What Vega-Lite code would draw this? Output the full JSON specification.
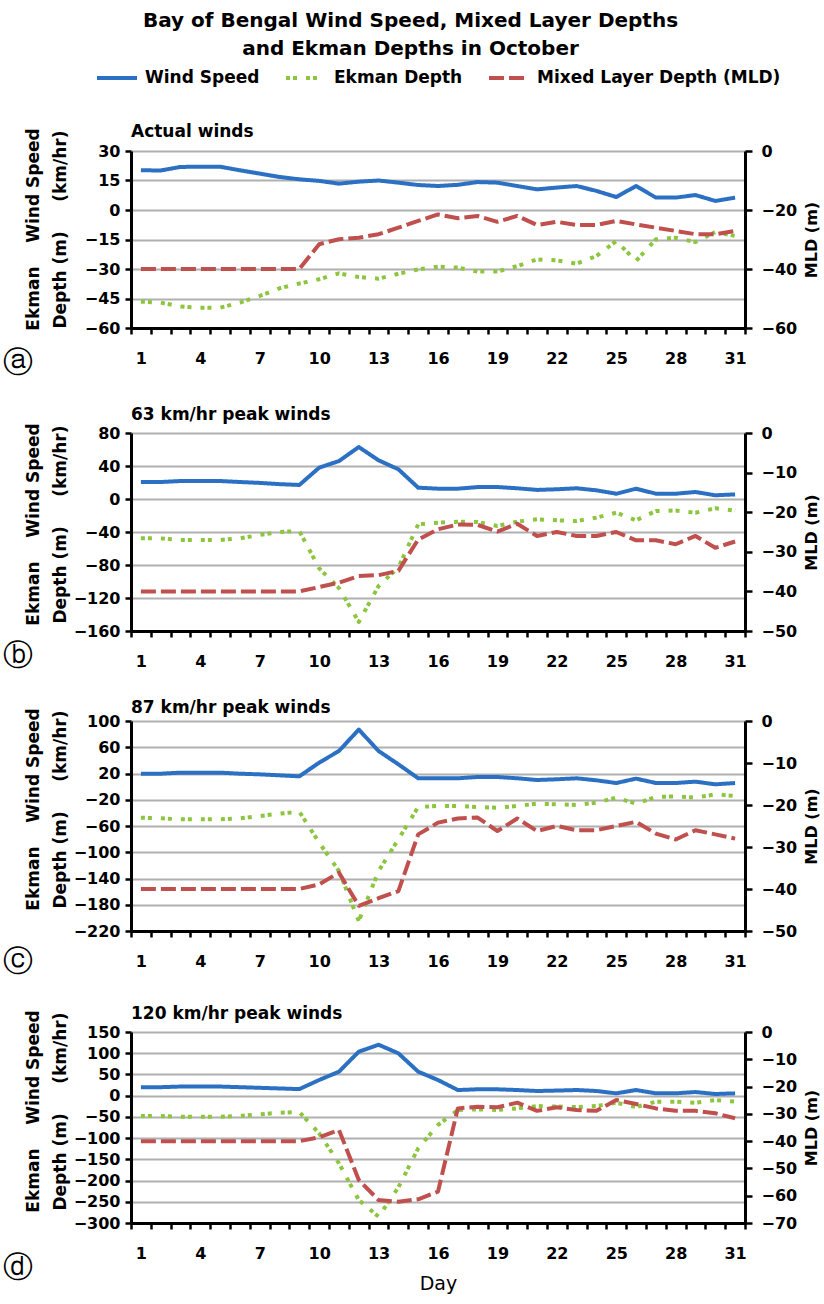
{
 "$schema": "https://vega.github.io/schema/vega-lite/v6.json",
 "padding": {"left": 2, "right": 2, "top": 11, "bottom": 2},
 "background": "white",
 "title": {"text": ["Bay of Bengal Wind Speed, Mixed Layer Depths", "and Ekman Depths in October"], "font": "DejaVu Sans", "fontSize": 20, "fontWeight": "bold", "color": "black", "lineHeight": 28, "anchor": "middle", "offset": -3},
 "datasets": {
  "a": [
   {"day":1,"series":"wind","value":20.2},{"day":2,"series":"wind","value":20.1},{"day":3,"series":"wind","value":21.9},{"day":4,"series":"wind","value":22},{"day":5,"series":"wind","value":22},{"day":6,"series":"wind","value":20.2},{"day":7,"series":"wind","value":18.5},{"day":8,"series":"wind","value":16.8},{"day":9,"series":"wind","value":15.6},{"day":10,"series":"wind","value":14.8},{"day":11,"series":"wind","value":13.4},{"day":12,"series":"wind","value":14.4},{"day":13,"series":"wind","value":15},{"day":14,"series":"wind","value":13.9},{"day":15,"series":"wind","value":12.7},{"day":16,"series":"wind","value":12.2},{"day":17,"series":"wind","value":12.8},{"day":18,"series":"wind","value":14.2},{"day":19,"series":"wind","value":13.9},{"day":20,"series":"wind","value":12.2},{"day":21,"series":"wind","value":10.5},{"day":22,"series":"wind","value":11.4},{"day":23,"series":"wind","value":12.2},{"day":24,"series":"wind","value":9.7},{"day":25,"series":"wind","value":6.6},{"day":26,"series":"wind","value":12.2},{"day":27,"series":"wind","value":6.3},{"day":28,"series":"wind","value":6.3},{"day":29,"series":"wind","value":7.6},{"day":30,"series":"wind","value":4.6},{"day":31,"series":"wind","value":6.3},
   {"day":1,"series":"ekman","value":-46.6},{"day":2,"series":"ekman","value":-47.1},{"day":3,"series":"ekman","value":-49.1},{"day":4,"series":"ekman","value":-49.7},{"day":5,"series":"ekman","value":-49.7},{"day":6,"series":"ekman","value":-47.1},{"day":7,"series":"ekman","value":-43.7},{"day":8,"series":"ekman","value":-39.8},{"day":9,"series":"ekman","value":-37.4},{"day":10,"series":"ekman","value":-35.2},{"day":11,"series":"ekman","value":-32.2},{"day":12,"series":"ekman","value":-34.1},{"day":13,"series":"ekman","value":-34.9},{"day":14,"series":"ekman","value":-32.4},{"day":15,"series":"ekman","value":-30.2},{"day":16,"series":"ekman","value":-28.8},{"day":17,"series":"ekman","value":-29.3},{"day":18,"series":"ekman","value":-31.3},{"day":19,"series":"ekman","value":-31.3},{"day":20,"series":"ekman","value":-28.5},{"day":21,"series":"ekman","value":-25.1},{"day":22,"series":"ekman","value":-25.6},{"day":23,"series":"ekman","value":-27.3},{"day":24,"series":"ekman","value":-23.4},{"day":25,"series":"ekman","value":-15.8},{"day":26,"series":"ekman","value":-25.9},{"day":27,"series":"ekman","value":-14.9},{"day":28,"series":"ekman","value":-14.1},{"day":29,"series":"ekman","value":-16.3},{"day":30,"series":"ekman","value":-11.2},{"day":31,"series":"ekman","value":-13.2},
   {"day":1,"series":"mld","value":-40},{"day":2,"series":"mld","value":-40},{"day":3,"series":"mld","value":-40},{"day":4,"series":"mld","value":-40},{"day":5,"series":"mld","value":-40},{"day":6,"series":"mld","value":-40},{"day":7,"series":"mld","value":-40},{"day":8,"series":"mld","value":-40},{"day":9,"series":"mld","value":-40},{"day":10,"series":"mld","value":-31.6},{"day":11,"series":"mld","value":-29.9},{"day":12,"series":"mld","value":-29.4},{"day":13,"series":"mld","value":-28.2},{"day":14,"series":"mld","value":-26},{"day":15,"series":"mld","value":-23.7},{"day":16,"series":"mld","value":-21.5},{"day":17,"series":"mld","value":-22.8},{"day":18,"series":"mld","value":-22},{"day":19,"series":"mld","value":-24},{"day":20,"series":"mld","value":-22},{"day":21,"series":"mld","value":-25.1},{"day":22,"series":"mld","value":-24},{"day":23,"series":"mld","value":-25.1},{"day":24,"series":"mld","value":-25.1},{"day":25,"series":"mld","value":-23.7},{"day":26,"series":"mld","value":-24.9},{"day":27,"series":"mld","value":-26},{"day":28,"series":"mld","value":-27.1},{"day":29,"series":"mld","value":-28.2},{"day":30,"series":"mld","value":-28.2},{"day":31,"series":"mld","value":-27.1}
  ],
  "b": [
   {"day":1,"series":"wind","value":20.6},{"day":2,"series":"wind","value":20.6},{"day":3,"series":"wind","value":21.8},{"day":4,"series":"wind","value":21.8},{"day":5,"series":"wind","value":21.8},{"day":6,"series":"wind","value":20.6},{"day":7,"series":"wind","value":19.5},{"day":8,"series":"wind","value":18},{"day":9,"series":"wind","value":17},{"day":10,"series":"wind","value":38},{"day":11,"series":"wind","value":46},{"day":12,"series":"wind","value":63},{"day":13,"series":"wind","value":46.9},{"day":14,"series":"wind","value":36},{"day":15,"series":"wind","value":13.7},{"day":16,"series":"wind","value":12.5},{"day":17,"series":"wind","value":12.5},{"day":18,"series":"wind","value":14.5},{"day":19,"series":"wind","value":14.5},{"day":20,"series":"wind","value":13},{"day":21,"series":"wind","value":11},{"day":22,"series":"wind","value":11.8},{"day":23,"series":"wind","value":13},{"day":24,"series":"wind","value":10.5},{"day":25,"series":"wind","value":6.4},{"day":26,"series":"wind","value":12.5},{"day":27,"series":"wind","value":6.4},{"day":28,"series":"wind","value":6.4},{"day":29,"series":"wind","value":8.5},{"day":30,"series":"wind","value":4.5},{"day":31,"series":"wind","value":5.6},
   {"day":1,"series":"ekman","value":-47.7},{"day":2,"series":"ekman","value":-47.7},{"day":3,"series":"ekman","value":-49.7},{"day":4,"series":"ekman","value":-49.7},{"day":5,"series":"ekman","value":-49.7},{"day":6,"series":"ekman","value":-47.7},{"day":7,"series":"ekman","value":-43.6},{"day":8,"series":"ekman","value":-40},{"day":9,"series":"ekman","value":-38.8},{"day":10,"series":"ekman","value":-84},{"day":11,"series":"ekman","value":-108},{"day":12,"series":"ekman","value":-149},{"day":13,"series":"ekman","value":-105.5},{"day":14,"series":"ekman","value":-83},{"day":15,"series":"ekman","value":-30.7},{"day":16,"series":"ekman","value":-28.7},{"day":17,"series":"ekman","value":-27.5},{"day":18,"series":"ekman","value":-28},{"day":19,"series":"ekman","value":-32.7},{"day":20,"series":"ekman","value":-27.5},{"day":21,"series":"ekman","value":-24.6},{"day":22,"series":"ekman","value":-25.8},{"day":23,"series":"ekman","value":-26.7},{"day":24,"series":"ekman","value":-22.6},{"day":25,"series":"ekman","value":-16.6},{"day":26,"series":"ekman","value":-25.8},{"day":27,"series":"ekman","value":-14.5},{"day":28,"series":"ekman","value":-14},{"day":29,"series":"ekman","value":-16.6},{"day":30,"series":"ekman","value":-11.3},{"day":31,"series":"ekman","value":-14},
   {"day":1,"series":"mld","value":-40},{"day":2,"series":"mld","value":-40},{"day":3,"series":"mld","value":-40},{"day":4,"series":"mld","value":-40},{"day":5,"series":"mld","value":-40},{"day":6,"series":"mld","value":-40},{"day":7,"series":"mld","value":-40},{"day":8,"series":"mld","value":-40},{"day":9,"series":"mld","value":-40},{"day":10,"series":"mld","value":-38.9},{"day":11,"series":"mld","value":-37.8},{"day":12,"series":"mld","value":-36.1},{"day":13,"series":"mld","value":-35.9},{"day":14,"series":"mld","value":-34.8},{"day":15,"series":"mld","value":-26.9},{"day":16,"series":"mld","value":-24.3},{"day":17,"series":"mld","value":-23.1},{"day":18,"series":"mld","value":-23.2},{"day":19,"series":"mld","value":-24.9},{"day":20,"series":"mld","value":-22.9},{"day":21,"series":"mld","value":-26},{"day":22,"series":"mld","value":-25},{"day":23,"series":"mld","value":-26},{"day":24,"series":"mld","value":-26},{"day":25,"series":"mld","value":-25},{"day":26,"series":"mld","value":-27.1},{"day":27,"series":"mld","value":-27.1},{"day":28,"series":"mld","value":-28.1},{"day":29,"series":"mld","value":-26},{"day":30,"series":"mld","value":-29},{"day":31,"series":"mld","value":-27.4}
  ],
  "c": [
   {"day":1,"series":"wind","value":19.7},{"day":2,"series":"wind","value":19.7},{"day":3,"series":"wind","value":21.3},{"day":4,"series":"wind","value":21.3},{"day":5,"series":"wind","value":21.3},{"day":6,"series":"wind","value":19.7},{"day":7,"series":"wind","value":18.7},{"day":8,"series":"wind","value":17.2},{"day":9,"series":"wind","value":15.7},{"day":10,"series":"wind","value":36.5},{"day":11,"series":"wind","value":54.3},{"day":12,"series":"wind","value":87},{"day":13,"series":"wind","value":54.3},{"day":14,"series":"wind","value":34},{"day":15,"series":"wind","value":12.7},{"day":16,"series":"wind","value":12.7},{"day":17,"series":"wind","value":12.7},{"day":18,"series":"wind","value":14.7},{"day":19,"series":"wind","value":14.7},{"day":20,"series":"wind","value":12.7},{"day":21,"series":"wind","value":10.1},{"day":22,"series":"wind","value":11.2},{"day":23,"series":"wind","value":12.7},{"day":24,"series":"wind","value":9.6},{"day":25,"series":"wind","value":5.5},{"day":26,"series":"wind","value":12.2},{"day":27,"series":"wind","value":5.5},{"day":28,"series":"wind","value":5.5},{"day":29,"series":"wind","value":7.6},{"day":30,"series":"wind","value":3.5},{"day":31,"series":"wind","value":5.5},
   {"day":1,"series":"ekman","value":-47.3},{"day":2,"series":"ekman","value":-48.3},{"day":3,"series":"ekman","value":-49.8},{"day":4,"series":"ekman","value":-49.8},{"day":5,"series":"ekman","value":-49.8},{"day":6,"series":"ekman","value":-48.3},{"day":7,"series":"ekman","value":-44.8},{"day":8,"series":"ekman","value":-41.2},{"day":9,"series":"ekman","value":-38.2},{"day":10,"series":"ekman","value":-85.4},{"day":11,"series":"ekman","value":-128.6},{"day":12,"series":"ekman","value":-204.8},{"day":13,"series":"ekman","value":-128.6},{"day":14,"series":"ekman","value":-80.3},{"day":15,"series":"ekman","value":-31},{"day":16,"series":"ekman","value":-29.5},{"day":17,"series":"ekman","value":-29.5},{"day":18,"series":"ekman","value":-31},{"day":19,"series":"ekman","value":-32.1},{"day":20,"series":"ekman","value":-29.5},{"day":21,"series":"ekman","value":-26},{"day":22,"series":"ekman","value":-27},{"day":23,"series":"ekman","value":-28},{"day":24,"series":"ekman","value":-24.5},{"day":25,"series":"ekman","value":-16.8},{"day":26,"series":"ekman","value":-26},{"day":27,"series":"ekman","value":-15.8},{"day":28,"series":"ekman","value":-14.8},{"day":29,"series":"ekman","value":-16.8},{"day":30,"series":"ekman","value":-11.7},{"day":31,"series":"ekman","value":-14.3},
   {"day":1,"series":"mld","value":-40},{"day":2,"series":"mld","value":-40},{"day":3,"series":"mld","value":-40},{"day":4,"series":"mld","value":-40},{"day":5,"series":"mld","value":-40},{"day":6,"series":"mld","value":-40},{"day":7,"series":"mld","value":-40},{"day":8,"series":"mld","value":-40},{"day":9,"series":"mld","value":-40},{"day":10,"series":"mld","value":-38.9},{"day":11,"series":"mld","value":-36.1},{"day":12,"series":"mld","value":-44},{"day":13,"series":"mld","value":-42.2},{"day":14,"series":"mld","value":-40.5},{"day":15,"series":"mld","value":-27},{"day":16,"series":"mld","value":-24.2},{"day":17,"series":"mld","value":-23.2},{"day":18,"series":"mld","value":-23},{"day":19,"series":"mld","value":-26.2},{"day":20,"series":"mld","value":-23.2},{"day":21,"series":"mld","value":-26.2},{"day":22,"series":"mld","value":-25},{"day":23,"series":"mld","value":-26},{"day":24,"series":"mld","value":-26},{"day":25,"series":"mld","value":-25},{"day":26,"series":"mld","value":-24},{"day":27,"series":"mld","value":-26.8},{"day":28,"series":"mld","value":-28.2},{"day":29,"series":"mld","value":-26},{"day":30,"series":"mld","value":-27},{"day":31,"series":"mld","value":-28}
  ],
  "d": [
   {"day":1,"series":"wind","value":20},{"day":2,"series":"wind","value":20},{"day":3,"series":"wind","value":21.5},{"day":4,"series":"wind","value":21.5},{"day":5,"series":"wind","value":21.5},{"day":6,"series":"wind","value":20},{"day":7,"series":"wind","value":18.5},{"day":8,"series":"wind","value":17},{"day":9,"series":"wind","value":15.5},{"day":10,"series":"wind","value":36.9},{"day":11,"series":"wind","value":56.5},{"day":12,"series":"wind","value":103.6},{"day":13,"series":"wind","value":120},{"day":14,"series":"wind","value":99.8},{"day":15,"series":"wind","value":56.5},{"day":16,"series":"wind","value":36.9},{"day":17,"series":"wind","value":13.3},{"day":18,"series":"wind","value":15},{"day":19,"series":"wind","value":15},{"day":20,"series":"wind","value":13.3},{"day":21,"series":"wind","value":11},{"day":22,"series":"wind","value":12},{"day":23,"series":"wind","value":13.3},{"day":24,"series":"wind","value":11},{"day":25,"series":"wind","value":5.5},{"day":26,"series":"wind","value":13.3},{"day":27,"series":"wind","value":5.5},{"day":28,"series":"wind","value":5.5},{"day":29,"series":"wind","value":8.6},{"day":30,"series":"wind","value":3.9},{"day":31,"series":"wind","value":5.5},
   {"day":1,"series":"ekman","value":-47.9},{"day":2,"series":"ekman","value":-47.9},{"day":3,"series":"ekman","value":-49.5},{"day":4,"series":"ekman","value":-49.5},{"day":5,"series":"ekman","value":-49.5},{"day":6,"series":"ekman","value":-47.9},{"day":7,"series":"ekman","value":-44},{"day":8,"series":"ekman","value":-40.1},{"day":9,"series":"ekman","value":-38.5},{"day":10,"series":"ekman","value":-88.8},{"day":11,"series":"ekman","value":-159.4},{"day":12,"series":"ekman","value":-245.8},{"day":13,"series":"ekman","value":-285},{"day":14,"series":"ekman","value":-216},{"day":15,"series":"ekman","value":-124},{"day":16,"series":"ekman","value":-69},{"day":17,"series":"ekman","value":-33.8},{"day":18,"series":"ekman","value":-32.2},{"day":19,"series":"ekman","value":-33.8},{"day":20,"series":"ekman","value":-29.8},{"day":21,"series":"ekman","value":-24.4},{"day":22,"series":"ekman","value":-25.6},{"day":23,"series":"ekman","value":-26.8},{"day":24,"series":"ekman","value":-24.4},{"day":25,"series":"ekman","value":-16.6},{"day":26,"series":"ekman","value":-26.8},{"day":27,"series":"ekman","value":-14.2},{"day":28,"series":"ekman","value":-14.2},{"day":29,"series":"ekman","value":-16.6},{"day":30,"series":"ekman","value":-10.2},{"day":31,"series":"ekman","value":-14.2},
   {"day":1,"series":"mld","value":-40},{"day":2,"series":"mld","value":-40},{"day":3,"series":"mld","value":-40},{"day":4,"series":"mld","value":-40},{"day":5,"series":"mld","value":-40},{"day":6,"series":"mld","value":-40},{"day":7,"series":"mld","value":-40},{"day":8,"series":"mld","value":-40},{"day":9,"series":"mld","value":-40},{"day":10,"series":"mld","value":-38.6},{"day":11,"series":"mld","value":-35.9},{"day":12,"series":"mld","value":-54.2},{"day":13,"series":"mld","value":-61.6},{"day":14,"series":"mld","value":-62.2},{"day":15,"series":"mld","value":-61.3},{"day":16,"series":"mld","value":-58.5},{"day":17,"series":"mld","value":-28},{"day":18,"series":"mld","value":-27.4},{"day":19,"series":"mld","value":-27.6},{"day":20,"series":"mld","value":-25.9},{"day":21,"series":"mld","value":-28.9},{"day":22,"series":"mld","value":-27.6},{"day":23,"series":"mld","value":-28.6},{"day":24,"series":"mld","value":-28.9},{"day":25,"series":"mld","value":-24.9},{"day":26,"series":"mld","value":-26.4},{"day":27,"series":"mld","value":-28},{"day":28,"series":"mld","value":-28.9},{"day":29,"series":"mld","value":-28.9},{"day":30,"series":"mld","value":-29.8},{"day":31,"series":"mld","value":-31.6}
  ]
 },
 "spacing": 28,
 "vconcat": [
  {
   "width": 614, "height": 177,
   "title": {"text": "Actual winds", "anchor": "start", "frame": "group", "offset": -13},
   "data": {"name": "a"},
   "layer": [
    {
     "transform": [{"filter": "datum.series != 'mld'"}],
     "mark": {"type": "line", "strokeWidth": 4, "strokeJoin": "round"},
     "encoding": {
      "x": {"field": "day", "type": "quantitative", "scale": {"domain": [0.5, 31.5], "nice": false, "zero": false},
            "axis": {"orient": "bottom", "values": [1,4,7,10,13,16,19,22,25,28,31], "ticks": false, "labelPadding": 22, "title": null}},
      "y": {"field": "value", "type": "quantitative", "scale": {"domain": [-60, 30], "nice": false, "zero": false},
            "axis": {"values": [30,15,0,-15,-30,-45,-60], "grid": true, "title": ["\u00a0\u00a0Ekman\u00a0\u00a0\u00a0\u00a0Wind Speed", "Depth (m)\u00a0\u00a0\u00a0\u00a0\u00a0(km/hr)\u00a0\u00a0"], "titleX": -98, "titleY": 78, "titleAngle": -90, "titleAlign": "center", "titleBaseline": "middle", "titleLineHeight": 27, "titleFontSize": 17}},
      "color": {"field": "series", "type": "nominal", "scale": {"domain": ["wind","ekman","mld"], "range": ["#2B70C2","#8CC63F","#C0504D"]},
                "legend": {"title": null, "orient": "top", "direction": "horizontal", "symbolType": "stroke", "symbolSize": 1600, "symbolStrokeWidth": 4, "labelExpr": "datum.value == 'wind' ? 'Wind Speed' : datum.value == 'ekman' ? 'Ekman Depth' : 'Mixed Layer Depth (MLD)'", "labelLimit": 400, "columnPadding": 18, "labelOffset": 6, "offset": 36}},
      "strokeDash": {"field": "series", "type": "nominal", "scale": {"domain": ["wind","ekman","mld"], "range": [[1,0],[4,3,4,9],[15,5]]},
                "legend": {"title": null, "orient": "top", "direction": "horizontal", "symbolType": "stroke", "symbolSize": 1600, "symbolStrokeWidth": 4, "labelExpr": "datum.value == 'wind' ? 'Wind Speed' : datum.value == 'ekman' ? 'Ekman Depth' : 'Mixed Layer Depth (MLD)'", "labelLimit": 400, "columnPadding": 18, "labelOffset": 6, "offset": 36}}
     }
    },
    {
     "transform": [{"filter": "datum.series == 'mld'"}],
     "mark": {"type": "line", "strokeWidth": 4, "strokeJoin": "round"},
     "encoding": {
      "x": {"field": "day", "type": "quantitative", "scale": {"domain": [0.5, 31.5], "nice": false, "zero": false},
            "axis": {"orient": "bottom", "values": [0.5,1.5,2.5,3.5,4.5,5.5,6.5,7.5,8.5,9.5,10.5,11.5,12.5,13.5,14.5,15.5,16.5,17.5,18.5,19.5,20.5,21.5,22.5,23.5,24.5,25.5,26.5,27.5,28.5,29.5,30.5,31.5], "domain": false, "labels": false, "ticks": true, "title": "ⓐ", "titleX": -114, "titleY": 34, "titleFontSize": 30, "titleFontWeight": "normal", "titleAlign": "center", "titleBaseline": "middle"}},
      "y": {"field": "value", "type": "quantitative", "scale": {"domain": [-60, 0], "nice": false, "zero": false},
            "axis": {"orient": "right", "values": [0,-20,-40,-60], "title": "MLD (m)", "titleAngle": -90, "titleX": 66, "titleAlign": "center", "titleBaseline": "middle", "tickSize": 7, "labelPadding": 9}},
      "color": {"field": "series", "type": "nominal"},
      "strokeDash": {"field": "series", "type": "nominal"}
     }
    }
   ],
   "resolve": {"scale": {"y": "independent"}, "axis": {"x": "independent", "y": "independent"}}
  },
  {
   "width": 614, "height": 198,
   "title": {"text": "63 km/hr peak winds", "anchor": "start", "frame": "group", "offset": -1},
   "data": {"name": "b"},
   "layer": [
    {
     "transform": [{"filter": "datum.series != 'mld'"}],
     "mark": {"type": "line", "strokeWidth": 4, "strokeJoin": "round"},
     "encoding": {
      "x": {"field": "day", "type": "quantitative", "scale": {"domain": [0.5, 31.5], "nice": false, "zero": false},
            "axis": {"orient": "bottom", "values": [1,4,7,10,13,16,19,22,25,28,31], "ticks": false, "labelPadding": 22, "title": null}},
      "y": {"field": "value", "type": "quantitative", "scale": {"domain": [-160, 80], "nice": false, "zero": false},
            "axis": {"values": [80,40,0,-40,-80,-120,-160], "grid": true, "title": ["\u00a0\u00a0Ekman\u00a0\u00a0\u00a0\u00a0Wind Speed", "Depth (m)\u00a0\u00a0\u00a0\u00a0\u00a0(km/hr)\u00a0\u00a0"], "titleX": -98, "titleY": 91, "titleAngle": -90, "titleAlign": "center", "titleBaseline": "middle", "titleLineHeight": 27, "titleFontSize": 17}},
      "color": {"field": "series", "type": "nominal"},
      "strokeDash": {"field": "series", "type": "nominal"}
     }
    },
    {
     "transform": [{"filter": "datum.series == 'mld'"}],
     "mark": {"type": "line", "strokeWidth": 4, "strokeJoin": "round"},
     "encoding": {
      "x": {"field": "day", "type": "quantitative", "scale": {"domain": [0.5, 31.5], "nice": false, "zero": false},
            "axis": {"orient": "bottom", "values": [0.5,1.5,2.5,3.5,4.5,5.5,6.5,7.5,8.5,9.5,10.5,11.5,12.5,13.5,14.5,15.5,16.5,17.5,18.5,19.5,20.5,21.5,22.5,23.5,24.5,25.5,26.5,27.5,28.5,29.5,30.5,31.5], "domain": false, "labels": false, "ticks": true, "title": "ⓑ", "titleX": -114, "titleY": 24, "titleFontSize": 30, "titleFontWeight": "normal", "titleAlign": "center", "titleBaseline": "middle"}},
      "y": {"field": "value", "type": "quantitative", "scale": {"domain": [-50, 0], "nice": false, "zero": false},
            "axis": {"orient": "right", "values": [0,-10,-20,-30,-40,-50], "title": "MLD (m)", "titleAngle": -90, "titleX": 66, "titleAlign": "center", "titleBaseline": "middle", "tickSize": 7, "labelPadding": 9}},
      "color": {"field": "series", "type": "nominal"},
      "strokeDash": {"field": "series", "type": "nominal"}
     }
    }
   ],
   "resolve": {"scale": {"y": "independent"}, "axis": {"x": "independent", "y": "independent"}}
  },
  {
   "width": 614, "height": 210,
   "title": {"text": "87 km/hr peak winds", "anchor": "start", "frame": "group", "offset": -9},
   "data": {"name": "c"},
   "layer": [
    {
     "transform": [{"filter": "datum.series != 'mld'"}],
     "mark": {"type": "line", "strokeWidth": 4, "strokeJoin": "round"},
     "encoding": {
      "x": {"field": "day", "type": "quantitative", "scale": {"domain": [0.5, 31.5], "nice": false, "zero": false},
            "axis": {"orient": "bottom", "values": [1,4,7,10,13,16,19,22,25,28,31], "ticks": false, "labelPadding": 22, "title": null}},
      "y": {"field": "value", "type": "quantitative", "scale": {"domain": [-220, 100], "nice": false, "zero": false},
            "axis": {"values": [100,60,20,-20,-60,-100,-140,-180,-220], "grid": true, "title": ["\u00a0\u00a0Ekman\u00a0\u00a0\u00a0\u00a0Wind Speed", "Depth (m)\u00a0\u00a0\u00a0\u00a0\u00a0(km/hr)\u00a0\u00a0"], "titleX": -98, "titleY": 88, "titleAngle": -90, "titleAlign": "center", "titleBaseline": "middle", "titleLineHeight": 27, "titleFontSize": 17}},
      "color": {"field": "series", "type": "nominal"},
      "strokeDash": {"field": "series", "type": "nominal"}
     }
    },
    {
     "transform": [{"filter": "datum.series == 'mld'"}],
     "mark": {"type": "line", "strokeWidth": 4, "strokeJoin": "round"},
     "encoding": {
      "x": {"field": "day", "type": "quantitative", "scale": {"domain": [0.5, 31.5], "nice": false, "zero": false},
            "axis": {"orient": "bottom", "values": [0.5,1.5,2.5,3.5,4.5,5.5,6.5,7.5,8.5,9.5,10.5,11.5,12.5,13.5,14.5,15.5,16.5,17.5,18.5,19.5,20.5,21.5,22.5,23.5,24.5,25.5,26.5,27.5,28.5,29.5,30.5,31.5], "domain": false, "labels": false, "ticks": true, "title": "ⓒ", "titleX": -114, "titleY": 30, "titleFontSize": 30, "titleFontWeight": "normal", "titleAlign": "center", "titleBaseline": "middle"}},
      "y": {"field": "value", "type": "quantitative", "scale": {"domain": [-50, 0], "nice": false, "zero": false},
            "axis": {"orient": "right", "values": [0,-10,-20,-30,-40,-50], "title": "MLD (m)", "titleAngle": -90, "titleX": 66, "titleAlign": "center", "titleBaseline": "middle", "tickSize": 7, "labelPadding": 9}},
      "color": {"field": "series", "type": "nominal"},
      "strokeDash": {"field": "series", "type": "nominal"}
     }
    }
   ],
   "resolve": {"scale": {"y": "independent"}, "axis": {"x": "independent", "y": "independent"}}
  },
  {
   "width": 614, "height": 191,
   "title": {"text": "120 km/hr peak winds", "anchor": "start", "frame": "group", "offset": -13},
   "data": {"name": "d"},
   "layer": [
    {
     "transform": [{"filter": "datum.series != 'mld'"}],
     "mark": {"type": "line", "strokeWidth": 4, "strokeJoin": "round"},
     "encoding": {
      "x": {"field": "day", "type": "quantitative", "scale": {"domain": [0.5, 31.5], "nice": false, "zero": false},
            "axis": {"orient": "bottom", "values": [1,4,7,10,13,16,19,22,25,28,31], "ticks": false, "labelPadding": 22, "title": "Day", "titleFontWeight": "normal", "titleFontSize": 19, "titlePadding": 13}},
      "y": {"field": "value", "type": "quantitative", "scale": {"domain": [-300, 150], "nice": false, "zero": false},
            "axis": {"values": [150,100,50,0,-50,-100,-150,-200,-250,-300], "grid": true, "title": ["\u00a0\u00a0Ekman\u00a0\u00a0\u00a0\u00a0Wind Speed", "Depth (m)\u00a0\u00a0\u00a0\u00a0\u00a0(km/hr)\u00a0\u00a0"], "titleX": -98, "titleY": 79, "titleAngle": -90, "titleAlign": "center", "titleBaseline": "middle", "titleLineHeight": 27, "titleFontSize": 17}},
      "color": {"field": "series", "type": "nominal"},
      "strokeDash": {"field": "series", "type": "nominal"}
     }
    },
    {
     "transform": [{"filter": "datum.series == 'mld'"}],
     "mark": {"type": "line", "strokeWidth": 4, "strokeJoin": "round"},
     "encoding": {
      "x": {"field": "day", "type": "quantitative", "scale": {"domain": [0.5, 31.5], "nice": false, "zero": false},
            "axis": {"orient": "bottom", "values": [0.5,1.5,2.5,3.5,4.5,5.5,6.5,7.5,8.5,9.5,10.5,11.5,12.5,13.5,14.5,15.5,16.5,17.5,18.5,19.5,20.5,21.5,22.5,23.5,24.5,25.5,26.5,27.5,28.5,29.5,30.5,31.5], "domain": false, "labels": false, "ticks": true, "title": "ⓓ", "titleX": -114, "titleY": 44, "titleFontSize": 30, "titleFontWeight": "normal", "titleAlign": "center", "titleBaseline": "middle"}},
      "y": {"field": "value", "type": "quantitative", "scale": {"domain": [-70, 0], "nice": false, "zero": false},
            "axis": {"orient": "right", "values": [0,-10,-20,-30,-40,-50,-60,-70], "title": "MLD (m)", "titleAngle": -90, "titleX": 66, "titleAlign": "center", "titleBaseline": "middle", "tickSize": 7, "labelPadding": 9}},
      "color": {"field": "series", "type": "nominal"},
      "strokeDash": {"field": "series", "type": "nominal"}
     }
    }
   ],
   "resolve": {"scale": {"y": "independent"}, "axis": {"x": "independent", "y": "independent"}}
  }
 ],
 "resolve": {"scale": {"color": "shared", "strokeDash": "shared"}, "legend": {"color": "shared", "strokeDash": "shared"}},
 "config": {
  "view": {"stroke": null},
  "font": "DejaVu Sans",
  "axis": {"labelFont": "DejaVu Sans", "labelFontSize": 16, "labelFontWeight": "bold", "labelColor": "black", "labelFlush": false, "labelOverlap": false,
           "titleFont": "DejaVu Sans", "titleFontSize": 16, "titleFontWeight": "bold", "titleColor": "black",
           "domainColor": "black", "domainWidth": 3, "tickColor": "black", "tickWidth": 2.5, "tickSize": 6, "labelPadding": 5,
           "grid": false, "gridColor": "#b0b0b0", "gridWidth": 2},
  "legend": {"labelFont": "DejaVu Sans", "labelFontSize": 17, "labelFontWeight": "bold", "labelColor": "black", "layout": {"top": {"anchor": "middle"}}},
  "title": {"font": "DejaVu Sans", "fontSize": 17, "fontWeight": "bold", "color": "black"}
 }
}
